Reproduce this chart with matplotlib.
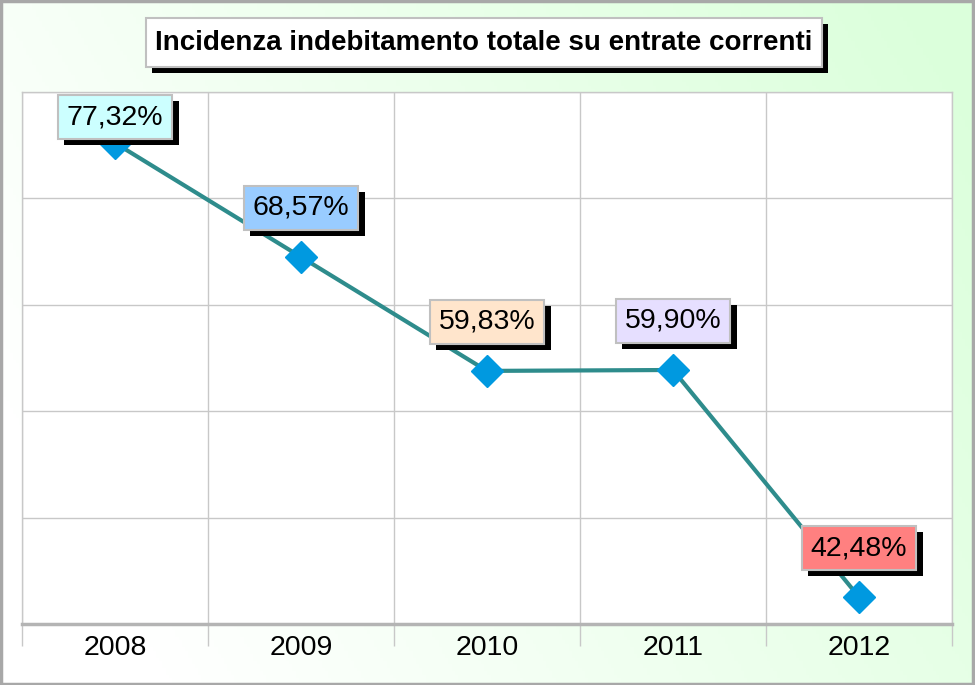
import numpy as np
import matplotlib
matplotlib.use("Agg")
import matplotlib.pyplot as plt
from matplotlib import patheffects
from matplotlib.patches import Rectangle

plt.rcParams['font.family'] = ['Liberation Sans', 'DejaVu Sans']

# data
years = ['2008', '2009', '2010', '2011', '2012']
values = [77.32, 68.57, 59.83, 59.90, 42.48]
labels = ['77,32%', '68,57%', '59,83%', '59,90%', '42,48%']
box_colors = ['#CCFFFF', '#99CCFF', '#FFE5CC', '#E6DFFF', '#FF8080']
title = 'Incidenza indebitamento totale su entrate correnti'

W, H = 975, 685
fig = plt.figure(figsize=(W / 100, H / 100), dpi=100)

# background gradient, white on the left to pale green on the right
bg = fig.add_axes([0, 0, 1, 1], zorder=-10)
gx, gy = np.meshgrid(np.linspace(0, 1, 300), np.linspace(0, 1, 200))
t = np.clip(0.85 * gx + 0.35 * (1 - gy) - 0.15, 0, 1)
white = np.array([1.0, 1.0, 1.0])
green = np.array([0.86, 1.0, 0.86])
img = white[None, None, :] * (1 - t[..., None]) + green[None, None, :] * t[..., None]
bg.imshow(img, extent=[0, 1, 0, 1], aspect='auto', origin='upper')
bg.add_patch(Rectangle((0.001, 0.002), 0.997, 0.996, fill=False,
                       edgecolor='#A8A8A8', linewidth=2.5, transform=bg.transAxes))
bg.set_xlim(0, 1)
bg.set_ylim(0, 1)
bg.axis('off')

shadow = [patheffects.SimplePatchShadow(offset=(4.5, -4.5), shadow_rgbFace='black',
                                        alpha=1.0),
          patheffects.Normal()]

# title box
tbox = Rectangle((146 / W, 1 - 67 / H), 676 / W, 49 / H, transform=bg.transAxes,
                 facecolor='white', edgecolor='#C0C0C0', linewidth=1.5, zorder=5)
tbox.set_path_effects(shadow)
bg.add_patch(tbox)
bg.text(484 / W, 1 - 43 / H, title, transform=bg.transAxes, ha='center',
        va='center', fontsize=20, fontweight='bold', zorder=6)

ax = fig.add_axes([22 / W, 1 - 624 / H, 930 / W, 532 / H])
ax.set_facecolor('white')
x = np.arange(len(years))
ax.plot(x, values, color='#2E8C8C', linewidth=3, zorder=3)
ax.plot(x, values, linestyle='none', marker='D', markersize=16,
        markerfacecolor='#0099E0', markeredgecolor='#0099E0', zorder=4,
        clip_on=False)

ax.set_xlim(-0.5, len(years) - 0.5)
ymin, ymax = 40.41, 81.23
ax.set_ylim(ymin, ymax)
ax.set_yticks(np.linspace(ymin, ymax, 6))
ax.set_yticklabels([])
ax.tick_params(axis='y', length=0)

ax.set_xticks(np.arange(len(years) + 1) - 0.5)
ax.set_xticklabels([])
ax.tick_params(axis='x', which='major', direction='out', length=16,
               color='#C8C8C8', width=1)
ax.set_xticks(x, minor=True)
ax.set_xticklabels(years, minor=True, fontsize=20.5)
ax.tick_params(axis='x', which='minor', length=0, pad=8)

ax.grid(True, color='#C8C8C8', linewidth=1)
ax.set_axisbelow(True)
for side in ['top', 'left', 'right']:
    ax.spines[side].set_color('#C8C8C8')
    ax.spines[side].set_linewidth(1)
ax.spines['bottom'].set_color('#B4B4B4')
ax.spines['bottom'].set_linewidth(2.5)

# value labels, 49 px above the marker but kept inside the plot area
fig.canvas.draw()
px_per_unit = ax.bbox.height / (ymax - ymin)
for xi, v, lab, col in zip(x, values, labels, box_colors):
    off_px = 49
    top_room = (ymax - v) * px_per_unit - 25
    off_px = min(off_px, top_room)
    an = ax.annotate(lab, (xi, v), xytext=(0, off_px * 72 / 100),
                     textcoords='offset points', ha='center', va='center',
                     fontsize=20.5, zorder=6, annotation_clip=False,
                     bbox=dict(boxstyle='square,pad=0.32', facecolor=col,
                               edgecolor='#C0C0C0', linewidth=1.5))
    an.get_bbox_patch().set_path_effects(shadow)

fig.savefig('out.png', dpi=100)
